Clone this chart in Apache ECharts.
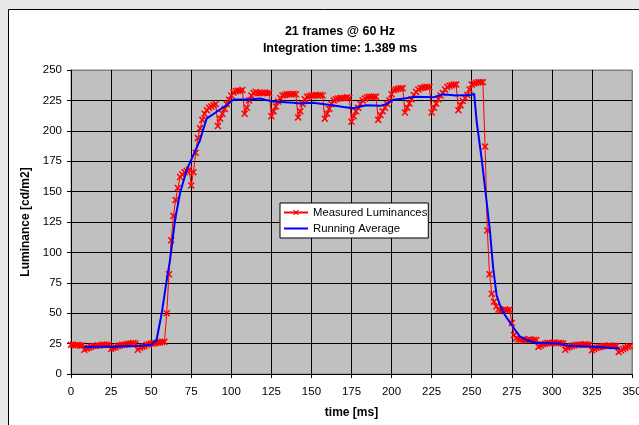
<!DOCTYPE html>
<html>
<head>
<meta charset="utf-8">
<script src="https://cdn.jsdelivr.net/npm/echarts@6/dist/echarts.min.js"></script>
<style>
  html, body { margin: 0; padding: 0; background: #e8e8e8; }
  #chart { width: 639px; height: 425px; }
</style>
</head>
<body>
<div id="chart"></div>
<script>
// sample spacing of the measured luminances (integration time)
var sampleMs = 1.389;

// measured luminance [cd/m2], one value per sample
var measured = [
  24, 24, 23.5, 24, 23.5, 23.5,
  20, 21, 21.5, 22.5, 23, 23, 23.5, 23.5, 24, 24, 24, 24,
  20.5, 21.5, 22, 23, 23.5, 24, 24, 24.5, 25, 25, 25.5, 25,
  20, 21.5, 22.5, 23, 24, 24.5, 25, 25, 25.5, 26, 26, 26.5,
  26.5, 50, 82, 110, 130, 143, 153, 162, 164, 166, 167, 168,
  155, 166, 182, 194, 202, 209, 214, 217, 219, 220, 221, 222,
  204, 210, 214, 218, 222, 225.5, 229, 231.5, 232.5, 233, 233, 233.5,
  214, 219, 225, 229, 231, 232, 231, 231, 231, 231.5, 231, 231,
  212, 216, 220, 224, 227, 229, 229.5, 230, 230, 230, 230.5, 230,
  211, 216, 222, 226, 228, 228.5, 229, 229, 229.5, 229, 229.5, 229,
  210, 214, 218, 222, 225, 226, 226.5, 227, 227, 227, 227.5, 227,
  207.5, 212, 216, 219, 222, 225, 226.5, 227.5, 228, 228, 228, 228,
  209, 213, 216, 219, 222, 225, 230, 233.5, 234, 234.5, 235, 235,
  215, 219, 222.5, 226, 229.5, 232, 234, 235, 235.5, 236, 236, 236,
  215, 219, 222.5, 226, 229, 231, 234, 236, 237, 237.5, 238, 238,
  217, 221, 224.5, 227, 229.5, 234, 238, 239, 239.5, 240, 240, 240,
  187, 118, 82, 66, 59.5, 55.5, 53, 52.5, 52.5, 53, 52.5, 53,
  42, 32, 29.5, 28.5, 28, 28.5, 28, 28, 28.5, 28, 28, 28,
  22.5, 23.5, 24.5, 25, 25.5, 25.5, 25.5, 26, 25.5, 25.5, 25.5, 25,
  20, 21.5, 22.5, 23, 23.5, 24, 24, 24, 24, 24.5, 24, 24,
  19.5, 20.5, 21.5, 22, 22.5, 23, 23, 23, 23.5, 23, 23, 23,
  18, 19.5, 20.5, 21.5, 22.5, 23
];

// running average
var avgTime = [8, 25, 42, 50, 53.4, 56.6, 59.7, 61.8, 64.9, 68, 72.2, 76.3, 80.5, 84.6, 90.9, 97.1,
  101.3, 111.7, 117.9, 126.2, 138.7, 143, 151, 157, 163, 170, 176, 184, 193, 197, 201, 208, 215,
  226, 232, 240, 250, 251.5, 253.1, 256.2, 259.3, 261.4, 263.4, 265.5, 267.6, 270.7, 274.9,
  280.1, 284.3, 290.5, 295, 305, 309, 325.8, 342.5];
var avgLum = [22.5, 22.5, 23, 24, 28, 50, 77, 93.8, 126.6, 148.6, 167.8, 180, 192.4, 210, 215.7, 221,
  225.8, 225.8, 226.6, 224, 223, 222.5, 223, 222, 221, 219.5, 218.5, 221, 220.5, 222, 225.5, 226.5, 228,
  227.5, 230, 229, 229.5, 230.5, 207.6, 177, 141.7, 117, 87, 65, 56.7, 48.5, 40.3,
  30.7, 28, 25.5, 25.5, 25, 23.5, 22.5, 21];

var xTicks = { min: 0, max: 350, step: 25 };
var yTicks = { min: 0, max: 250, step: 25 };

var chart = echarts.init(document.getElementById('chart'));

var measuredData = measured.map(function (v, i) { return [i * sampleMs, v]; });
var avgData = avgTime.map(function (t, i) { return [t, avgLum[i]]; });

var crossPath = 'path://M0,1.5L1.5,0L5,3.5L8.5,0L10,1.5L6.5,5L10,8.5L8.5,10L5,6.5L1.5,10L0,8.5L3.5,5Z';
var font = 'Liberation Sans, Arial, sans-serif';

function lineColors(n) {
  var c = [];
  for (var i = 0; i < n; i++) c.push(i === n - 1 ? '#808080' : '#000000');
  return c;
}

option = {
  animation: false,
  backgroundColor: 'transparent',
  graphic: [
    { type: 'rect', z: -10, shape: { x: 8.5, y: 9.5, width: 700, height: 500 },
      style: { fill: '#ffffff', stroke: '#000000', lineWidth: 1 } },
    { type: 'text', x: 340, y: 25, style: { text: '21 frames @ 60 Hz', textAlign: 'center',
      font: 'bold 12.5px ' + font, fill: '#000' } },
    { type: 'text', x: 340, y: 42, style: { text: 'Integration time: 1.389 ms', textAlign: 'center',
      font: 'bold 12.5px ' + font, fill: '#000' } }
  ],
  legend: {
    orient: 'vertical',
    left: 280,
    top: 203,
    padding: [4, 1, 4, 3],
    itemGap: 5,
    itemWidth: 24,
    itemHeight: 7,
    backgroundColor: '#ffffff',
    borderColor: '#000000',
    borderWidth: 1,
    borderRadius: 0,
    textStyle: { fontFamily: font, fontSize: 11.3, color: '#000' },
    data: [
      { name: 'Measured Luminances' },
      { name: 'Running Average', itemStyle: { opacity: 0 } }
    ]
  },
  grid: {
    left: 71, right: 7, top: 70, bottom: 51,
    outerBoundsMode: 'none',
    containLabel: false,
    show: true,
    backgroundColor: '#c0c0c0',
    borderColor: '#808080',
    borderWidth: 1
  },
  xAxis: {
    type: 'value',
    min: xTicks.min, max: xTicks.max, interval: xTicks.step,
    name: 'time [ms]',
    nameLocation: 'middle',
    nameGap: 33,
    nameTextStyle: { fontFamily: font, fontSize: 12, fontWeight: 'bold', color: '#000' },
    axisLine: { lineStyle: { color: '#000', width: 1 } },
    axisTick: { length: 4, lineStyle: { color: '#000' } },
    axisLabel: { fontFamily: font, fontSize: 11.5, color: '#000', margin: 12 },
    splitLine: { lineStyle: { color: lineColors(15), width: 1 } }
  },
  yAxis: {
    type: 'value',
    min: yTicks.min, max: yTicks.max, interval: yTicks.step,
    name: 'Luminance [cd/m2]',
    nameLocation: 'middle',
    nameRotate: 90,
    nameGap: 33,
    nameTextStyle: { fontFamily: font, fontSize: 12, fontWeight: 'bold', color: '#000' },
    axisLine: { show: true, lineStyle: { color: '#000', width: 1 } },
    axisTick: { show: true, length: 4, lineStyle: { color: '#000' } },
    axisLabel: { fontFamily: font, fontSize: 11.5, color: '#000', margin: 9 },
    splitLine: { lineStyle: { color: lineColors(11), width: 1 } }
  },
  series: [
    {
      name: 'Measured Luminances',
      type: 'line',
      data: measuredData,
      symbol: crossPath,
      symbolSize: 7,
      showAllSymbol: true,
      lineStyle: { color: '#ff0000', width: 1 },
      itemStyle: { color: '#ff0000' },
      z: 2
    },
    {
      name: 'Running Average',
      type: 'line',
      data: avgData,
      showSymbol: false,
      symbol: 'none',
      lineStyle: { color: '#0000ff', width: 2 },
      itemStyle: { color: '#0000ff' },
      z: 3
    }
  ]
};
chart.setOption(option);
</script>
</body>
</html>
